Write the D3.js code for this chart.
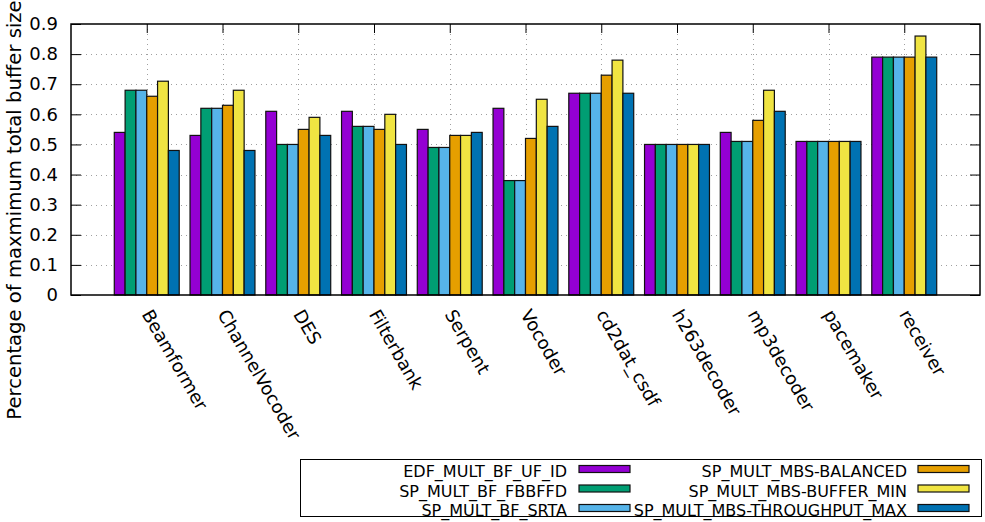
<!DOCTYPE html>
<html>
<head>
<meta charset="utf-8">
<script src="https://cdn.jsdelivr.net/npm/d3@7"></script>
<style>
  html, body { margin: 0; padding: 0; background: #fff; }
  svg { display: block; font-family: "DejaVu Sans", sans-serif; }
</style>
</head>
<body>
<svg id="chart" width="985" height="522"></svg>
<script>
// Benchmarks on the x axis
const categories = ["Beamformer", "ChannelVocoder", "DES", "Filterbank", "Serpent", "Vocoder",
  "cd2dat_csdf", "h263decoder", "mp3decoder", "pacemaker", "receiver"];

// One array per allocation strategy (fraction of maximum total buffer size)
const edfMultBfUfId      = [0.54, 0.53, 0.61, 0.61, 0.55, 0.62, 0.67, 0.50, 0.54, 0.51, 0.79];
const spMultBfFbbffd     = [0.68, 0.62, 0.50, 0.56, 0.49, 0.38, 0.67, 0.50, 0.51, 0.51, 0.79];
const spMultBfSrta       = [0.68, 0.62, 0.50, 0.56, 0.49, 0.38, 0.67, 0.50, 0.51, 0.51, 0.79];
const spMultMbsBalanced  = [0.66, 0.63, 0.55, 0.55, 0.53, 0.52, 0.73, 0.50, 0.58, 0.51, 0.79];
const spMultMbsBufferMin = [0.71, 0.68, 0.59, 0.60, 0.53, 0.65, 0.78, 0.50, 0.68, 0.51, 0.86];
const spMultMbsThrMax    = [0.48, 0.48, 0.53, 0.50, 0.54, 0.56, 0.67, 0.50, 0.61, 0.51, 0.79];

const seriesNames = ["EDF_MULT_BF_UF_ID", "SP_MULT_BF_FBBFFD", "SP_MULT_BF_SRTA",
  "SP_MULT_MBS-BALANCED", "SP_MULT_MBS-BUFFER_MIN", "SP_MULT_MBS-THROUGHPUT_MAX"];
const seriesValues = [edfMultBfUfId, spMultBfFbbffd, spMultBfSrta,
  spMultMbsBalanced, spMultMbsBufferMin, spMultMbsThrMax];
const seriesColors = ["#9400d3", "#009e73", "#56b4e9", "#e69f00", "#f0e442", "#0072b2"];

const yTicks = [0, 0.1, 0.2, 0.3, 0.4, 0.5, 0.6, 0.7, 0.8, 0.9];
const yLabel = "Percentage of maxmimum total buffer size";

const svg = d3.select("#chart");
const plotL = 71, plotR = 980, plotT = 24, plotB = 295;

const x = d3.scaleLinear().domain([-1, categories.length]).range([plotL, plotR]);
const y = d3.scaleLinear().domain([0, 0.9]).range([plotB, plotT]);
const nSeries = seriesValues.length;
const bw = (x(1) - x(0)) / (nSeries + 1);

// dotted grid
const grid = svg.append("g").attr("stroke", "#a0a0a0").attr("stroke-width", 1)
  .attr("stroke-dasharray", "1,4");
grid.selectAll("line.h").data(yTicks.filter(t => t > 0 && t < 0.9)).join("line")
  .attr("x1", plotL).attr("x2", plotR)
  .attr("y1", d => Math.round(y(d)) + 0.5).attr("y2", d => Math.round(y(d)) + 0.5);
grid.selectAll("line.v").data(categories.map((c, i) => i)).join("line")
  .attr("y1", plotT).attr("y2", plotB)
  .attr("x1", d => Math.round(x(d)) + 0.5).attr("x2", d => Math.round(x(d)) + 0.5);

// bars
const bars = svg.append("g");
seriesValues.forEach((vals, j) => {
  bars.selectAll(null).data(vals).join("rect")
    .attr("x", (d, i) => x(i) + (j - nSeries / 2) * bw)
    .attr("width", bw)
    .attr("y", d => y(d))
    .attr("height", d => y(0) - y(d))
    .attr("fill", seriesColors[j])
    .attr("stroke", "#111")
    .attr("stroke-width", 1.2);
});

// axes: left with labels, right/top mirrored ticks
const yAxisL = d3.axisLeft(y).tickValues(yTicks).tickSizeInner(-10).tickSizeOuter(0)
  .tickPadding(13).tickFormat(d => d === 0 ? "0" : d3.format(".1f")(d));
const gL = svg.append("g").attr("transform", `translate(${plotL},0)`).call(yAxisL);
gL.select(".domain").remove();
gL.selectAll("text").attr("font-size", 18).attr("font-family", "DejaVu Sans").attr("fill", "#000");
gL.selectAll("line").attr("stroke", "#000");

const yAxisR = d3.axisRight(y).tickValues(yTicks).tickSizeInner(-10).tickSizeOuter(0).tickFormat("");
const gR = svg.append("g").attr("transform", `translate(${plotR},0)`).call(yAxisR);
gR.select(".domain").remove();

const xAxisT = d3.axisTop(x).tickValues(categories.map((c, i) => i)).tickSizeInner(-9)
  .tickSizeOuter(0).tickFormat("");
const gT = svg.append("g").attr("transform", `translate(0,${plotT})`).call(xAxisT);
gT.select(".domain").remove();

// border
svg.append("rect").attr("x", plotL).attr("y", plotT).attr("width", plotR - plotL)
  .attr("height", plotB - plotT).attr("fill", "none").attr("stroke", "#000").attr("stroke-width", 1.5);

// rotated category labels
svg.append("g").selectAll("text").data(categories).join("text")
  .attr("transform", (d, i) => `translate(${x(i)},311) rotate(60)`)
  .attr("dy", "0.35em")
  .attr("font-size", 18)
  .attr("fill", "#000")
  .text(d => d);

// y axis title
svg.append("text")
  .attr("transform", "translate(20.5,210) rotate(-90)")
  .attr("text-anchor", "middle")
  .attr("font-size", 19.6)
  .attr("fill", "#000")
  .text(yLabel);

// legend
const lg = svg.append("g");
lg.append("rect").attr("x", 300.5).attr("y", 459.5).attr("width", 681).attr("height", 57)
  .attr("fill", "#fff").attr("stroke", "#000").attr("stroke-width", 1);
const cols = [{ textX: 567, swX: 579 }, { textX: 907, swX: 918 }];
const rowBase = [477, 496.5, 516];
seriesNames.forEach((name, j) => {
  const c = cols[Math.floor(j / 3)], r = rowBase[j % 3];
  lg.append("text").attr("x", c.textX).attr("y", r).attr("text-anchor", "end")
    .attr("font-size", 16).attr("fill", "#000").text(name);
  lg.append("rect").attr("x", c.swX).attr("y", r - 11.5).attr("width", 51).attr("height", 7)
    .attr("fill", seriesColors[j]).attr("stroke", "#111").attr("stroke-width", 1.2);
});
</script>
</body>
</html>
